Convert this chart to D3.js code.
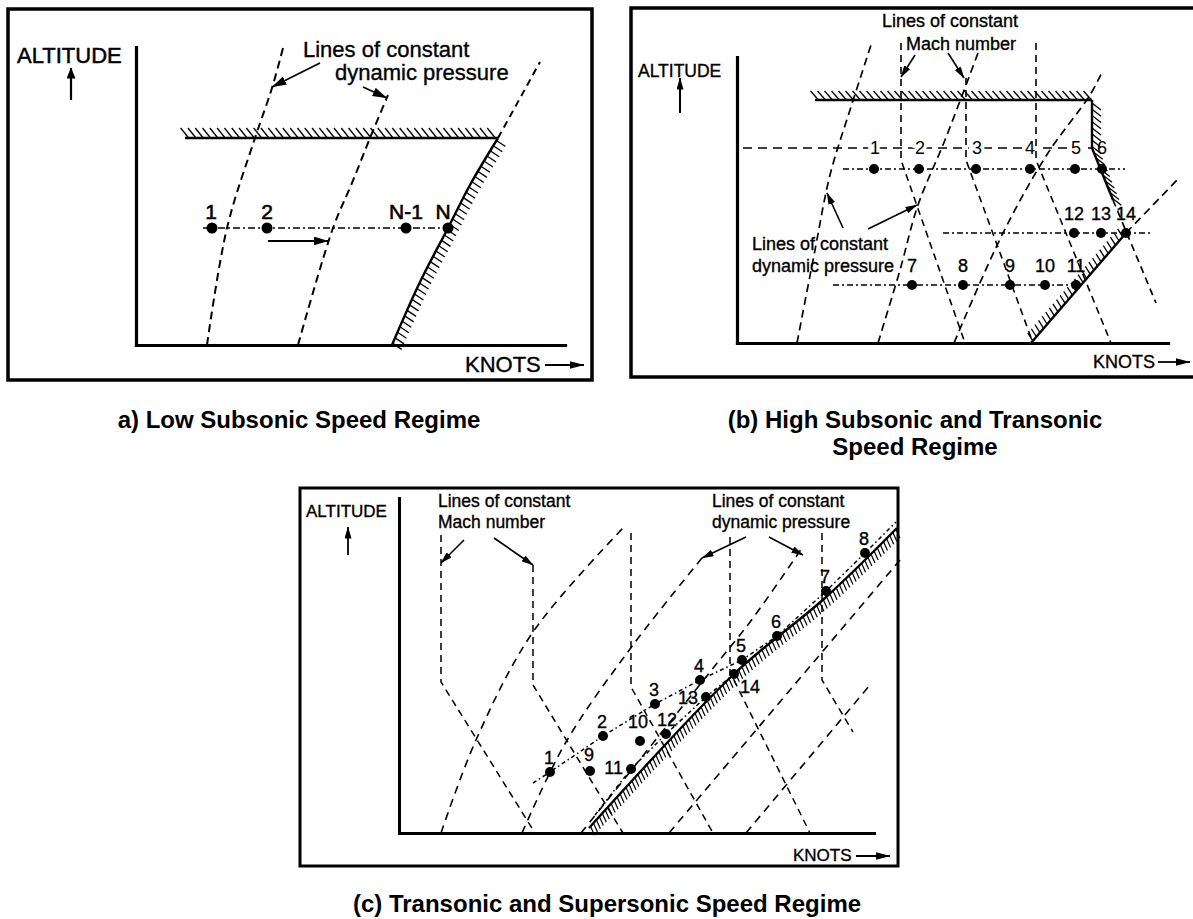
<!DOCTYPE html>
<html><head><meta charset="utf-8">
<script src="https://cdn.jsdelivr.net/npm/d3@7"></script>
<style>
body{margin:0;background:#fff}
text{font-family:"Liberation Sans",Arial,Helvetica,sans-serif;fill:#000}
text.ann{stroke:#000;stroke-width:0.35px}
</style>
</head><body><script>
// ================= DATA (plot units: 1 unit along each axis) =================
// ---- Panel (a) Low subsonic
const aAxisMax = [429, 298];
const aCeiling = [[49, 207], [362, 207]];
const aBoundary = [[362, 207], [334, 160], [312, 117], [284, 63], [256, 0]];
const aBoundaryExt = [[362, 207], [404, 283]];
const aQLine1 = [[71, 0], [91, 117], [119, 207], [136, 257], [147, 297]];
const aQLine2 = [[162, 0], [197, 117], [216, 162], [234, 207], [252, 250]];
const aPathY = 117;
const aPathX = [67, 312];
const aPointsX = [76, 131, 270, 312];
const aPointLabels = ["1", "2", "N-1", "N"];
const aLabelX = [75, 131, 270, 307];
const aMoveArrow = [[132, 104], [192, 104]];
const aNoteArrows = [[[184, 282], [136, 258]], [[227, 258], [251, 247]]];
const aNoteText = ["Lines of constant", "dynamic pressure"];
const aNoteAnchor = [[167, 288], [199, 265]];

// ---- Panel (b) High subsonic / transonic
const bAxisMax = [431, 286];
const bCeiling = [[78, 243], [355, 243]];
const bWall = [[355, 243], [355, 195], [376, 143]];
const bWallExt = [[376, 143], [419, 40]];
const bQLines = [
  [[60, 0], [78, 93], [93, 168], [113, 233], [134, 298]],
  [[141, 0], [163, 73], [181, 138], [208, 203], [241, 290]],
  [[217, 0], [266, 110], [311, 190], [353, 248], [366, 273]]
];
const bQLower = [[294, 0], [389, 110]];
const bQLowerExt = [[389, 110], [443, 166]];
const bMachLines = [
  [[164, 300], [164, 183], [228, 0]],
  [[229, 265], [229, 183], [296, 0]],
  [[299, 300], [299, 183], [374, 0]]
];
const bLabelLine = [[6, 195], [355, 195]];
const bRow1Labels = ["1", "2", "3", "4", "5", "6"];
const bRow1LabelX = [138, 183, 240, 293, 339, 365];
const bRow1Y = 174, bRow1Line = [106, 388];
const bRow1X = [137, 182, 239, 293, 338, 365];
const bRow2Y = 110, bRow2Line = [206, 413];
const bRow2X = [337, 364, 389];
const bRow2Labels = ["12", "13", "14"];
const bRow3Y = 58, bRow3Line = [96, 343];
const bRow3X = [175, 226, 273, 308, 339];
const bRow3Labels = ["7", "8", "9", "10", "11"];
const bMachText = ["Lines of constant", "Mach number"];
const bMachAnchor = [[145, 316], [169, 293]];
const bMachArrows = [[[178, 288], [164, 266]], [[211, 290], [227, 265]]];
const bQText = ["Lines of constant", "dynamic pressure"];
const bQAnchor = [[15, 93], [15, 71]];
const bQArrows = [[[106, 115], [90, 150]], [[131, 114], [180, 138]]];

// ---- Panel (c) Transonic / supersonic
const cAxisMax = [475, 335];
const cMachLines = [
  [[42, 298], [42, 151], [136, 0]],
  [[134, 268], [134, 148], [224, 0]],
  [[232, 300], [232, 146], [314, 0]],
  [[331, 296], [331, 161], [411, 0]],
  [[423, 300], [423, 153], [454, 101]]
];
const cQLines = [
  [[42, 0], [77, 93], [134, 201], [224, 305]],
  [[123, 0], [167, 91], [234, 188], [303, 275]],
  [[182, 0], [311, 161], [354, 215], [403, 285]],
  [[270, 0], [501, 273]],
  [[347, 0], [471, 148]]
];
const cHatch = [[190, 5], [335, 159], [426, 235], [498, 305]];
const cUpperPts = [[151, 61], [204, 97], [256, 129], [301, 153], [343, 173], [378, 197], [427, 242], [466, 280]];
const cUpperLabels = ["1", "2", "3", "4", "5", "6", "7", "8"];
const cUpperStart = [134, 50], cUpperEnd = [497, 311];
const cLowerPts = [[191, 62], [241, 92], [232, 64], [267, 99], [307, 136], [335, 159]];
const cLowerLabels = ["9", "10", "11", "12", "13", "14"];
const cLowerStart = [196, 18];
const cMachText = ["Lines of constant", "Mach number"];
const cMachAnchor = [[39, 326], [39, 305]];
const cMachArrows = [[[65, 293], [42, 270]], [[95, 295], [134, 268]]];
const cQText = ["Lines of constant", "dynamic pressure"];
const cQAnchor = [[313, 326], [313, 305]];
const cQArrows = [[[347, 296], [303, 275]], [[370, 296], [404, 278]]];

const titles = ["a) Low Subsonic Speed Regime", "(b) High Subsonic and Transonic", "Speed Regime", "(c) Transonic and Supersonic Speed Regime"];

// ================= LAYOUT / STYLE =================
const svg = d3.select("body").append("svg").attr("width", 1193).attr("height", 919);
svg.append("rect").attr("width", 1193).attr("height", 919).attr("fill", "#fff");
const defs = svg.append("defs");
function marker(id, len, wid) {
  defs.append("marker").attr("id", id).attr("viewBox", `0 0 ${len} ${wid}`)
    .attr("refX", len - 0.5).attr("refY", wid / 2).attr("markerWidth", len).attr("markerHeight", wid)
    .attr("markerUnits", "userSpaceOnUse").attr("orient", "auto")
    .append("path").attr("d", `M0,0L${len},${wid / 2}L0,${wid}Z`).attr("fill", "#000");
}
marker("ahA", 15, 9); marker("ahB", 12, 7); marker("ahK", 15, 8); marker("ahUp", 11, 9);

function panel(ox, oy, max) {
  return {
    x: d3.scaleLinear().domain([0, max[0]]).range([ox, ox + max[0]]),
    y: d3.scaleLinear().domain([0, max[1]]).range([oy, oy - max[1]])
  };
}
function drawLine(g, s, pts, o = {}) {
  const gen = d3.line().x(d => s.x(d[0])).y(d => s.y(d[1])).curve(o.curve || d3.curveLinear);
  return g.append("path").attr("d", gen(pts)).attr("fill", "none").attr("stroke", "#000")
    .attr("stroke-width", o.width || 1.8).attr("stroke-dasharray", o.dash || null)
    .attr("marker-end", o.marker ? `url(#${o.marker})` : null);
}
function hatchLine(g, s, pts, o) {
  const p = drawLine(g, s, pts, { curve: o.curve, width: o.lw || 2.4 });
  const node = p.node(), L = node.getTotalLength();
  for (let t = o.step * 0.5; t <= L; t += o.step) {
    const q = node.getPointAtLength(t);
    g.append("line").attr("x1", q.x).attr("y1", q.y).attr("x2", q.x + o.vec[0]).attr("y2", q.y + o.vec[1])
      .attr("stroke", "#000").attr("stroke-width", o.hw || 1.3);
  }
}
function axes(g, s, sw) {
  g.append("g").attr("transform", `translate(0,${s.y(0)})`)
    .call(d3.axisBottom(s.x).tickValues([]).tickSizeOuter(0))
    .select(".domain").attr("stroke-width", sw).attr("stroke-linecap", "square");
  g.append("g").attr("transform", `translate(${s.x(0)},0)`)
    .call(d3.axisLeft(s.y).tickValues([]).tickSizeOuter(0))
    .select(".domain").attr("stroke-width", sw).attr("stroke-linecap", "square");
}
function label(g, x, y, t, size, anchor = "start", weight = "normal") {
  return g.append("text").attr("class", weight === "bold" ? null : "ann").attr("x", x).attr("y", y).attr("font-size", size)
    .attr("text-anchor", anchor).attr("font-weight", weight).text(t);
}
function dots(g, s, pts, r) {
  g.selectAll(null).data(pts).join("circle").attr("cx", d => s.x(d[0])).attr("cy", d => s.y(d[1])).attr("r", r).attr("fill", "#000");
}

// ---------- frames ----------
svg.append("rect").attr("x", 8).attr("y", 9).attr("width", 584).attr("height", 371).attr("fill", "none").attr("stroke", "#000").attr("stroke-width", 3.5);
svg.append("rect").attr("x", 631).attr("y", 8).attr("width", 580).attr("height", 369).attr("fill", "none").attr("stroke", "#000").attr("stroke-width", 3.5);
svg.append("rect").attr("x", 300).attr("y", 488).attr("width", 598).attr("height", 378).attr("fill", "none").attr("stroke", "#000").attr("stroke-width", 3);

// ================= PANEL A =================
const A = panel(136, 345, aAxisMax);
const gA = svg.append("g");
axes(gA, A, 3.2);
hatchLine(gA, A, aCeiling, { step: 7.3, vec: [-8, -10] });
hatchLine(gA, A, aBoundary, { step: 6, vec: [9, 6], curve: d3.curveCatmullRom });
drawLine(gA, A, aBoundaryExt, { dash: "7,5", width: 2 });
drawLine(gA, A, aQLine1, { dash: "8,5", width: 2, curve: d3.curveCatmullRom });
drawLine(gA, A, aQLine2, { dash: "8,5", width: 2, curve: d3.curveCatmullRom });
drawLine(gA, A, [[aPathX[0], aPathY], [aPathX[1], aPathY]], { dash: "7,3,2,3", width: 1.6 });
dots(gA, A, aPointsX.map(x => [x, aPathY]), 5.5);
aPointLabels.forEach((t, i) => label(gA, A.x(aLabelX[i]), A.y(aPathY) - 9, t, 21, "middle").style("stroke-width", "0.6px"));
drawLine(gA, A, aMoveArrow, { width: 2, marker: "ahA" });
aNoteArrows.forEach(p => drawLine(gA, A, p, { width: 1.8, marker: "ahA" }));
aNoteText.forEach((t, i) => label(gA, A.x(aNoteAnchor[i][0]), A.y(aNoteAnchor[i][1]), t, 22));
label(gA, 17, 63, "ALTITUDE", 22).style("stroke-width", "0.5px");
gA.append("line").attr("x1", 71).attr("y1", 100).attr("x2", 71).attr("y2", 68).attr("stroke", "#000").attr("stroke-width", 2.2).attr("marker-end", "url(#ahUp)");
label(gA, 465, 372, "KNOTS", 22);
gA.append("line").attr("x1", 545).attr("y1", 365).attr("x2", 584).attr("y2", 365).attr("stroke", "#000").attr("stroke-width", 2).attr("marker-end", "url(#ahK)");

// ================= PANEL B =================
const B = panel(737, 343, bAxisMax);
const gB = svg.append("g");
axes(gB, B, 3.2);
drawLine(gB, B, bLabelLine, { dash: "9,6", width: 1.7 });
bRow1Labels.forEach((t, i) => label(gB, B.x(bRow1LabelX[i]), B.y(bLabelLine[0][1]) + 6, t, 18, "middle")
  .style("stroke", "#fff").style("stroke-width", "7px").attr("paint-order", "stroke"));
hatchLine(gB, B, bCeiling, { step: 7, vec: [-8, -9] });
hatchLine(gB, B, bWall, { step: 6.2, vec: [9, 7] });
drawLine(gB, B, bWallExt, { dash: "7,5", width: 1.7 });
bQLines.forEach(p => drawLine(gB, B, p, { dash: "8,5", width: 1.7, curve: d3.curveCatmullRom }));
hatchLine(gB, B, bQLower, { step: 5.5, vec: [-5, -8] });
drawLine(gB, B, bQLowerExt, { dash: "8,5", width: 1.7 });
bMachLines.forEach(p => drawLine(gB, B, p, { dash: "7,5", width: 1.6 }));
drawLine(gB, B, [[bRow1Line[0], bRow1Y], [bRow1Line[1], bRow1Y]], { dash: "6,3,2,3", width: 1.4 });
drawLine(gB, B, [[bRow2Line[0], bRow2Y], [bRow2Line[1], bRow2Y]], { dash: "6,3,2,3", width: 1.4 });
drawLine(gB, B, [[bRow3Line[0], bRow3Y], [bRow3Line[1], bRow3Y]], { dash: "6,3,2,3", width: 1.4 });
dots(gB, B, bRow1X.map(x => [x, bRow1Y]), 5);
dots(gB, B, bRow2X.map(x => [x, bRow2Y]), 5);
dots(gB, B, bRow3X.map(x => [x, bRow3Y]), 5);
bRow2Labels.forEach((t, i) => label(gB, B.x(bRow2X[i]), B.y(bRow2Y) - 13, t, 18, "middle"));
bRow3Labels.forEach((t, i) => label(gB, B.x(bRow3X[i]), B.y(bRow3Y) - 13, t, 18, "middle"));
bMachText.forEach((t, i) => label(gB, B.x(bMachAnchor[i][0]), B.y(bMachAnchor[i][1]), t, 18));
bMachArrows.forEach(p => drawLine(gB, B, p, { width: 1.6, marker: "ahB" }));
bQText.forEach((t, i) => label(gB, B.x(bQAnchor[i][0]), B.y(bQAnchor[i][1]), t, 18));
bQArrows.forEach(p => drawLine(gB, B, p, { width: 1.6, marker: "ahB" }));
label(gB, 638, 77, "ALTITUDE", 17.5);
gB.append("line").attr("x1", 680).attr("y1", 113).attr("x2", 680).attr("y2", 78).attr("stroke", "#000").attr("stroke-width", 2).attr("marker-end", "url(#ahB)");
label(gB, 1093, 368, "KNOTS", 18);
gB.append("line").attr("x1", 1158).attr("y1", 362).attr("x2", 1190).attr("y2", 362).attr("stroke", "#000").attr("stroke-width", 1.8).attr("marker-end", "url(#ahK)");

// ================= PANEL C =================
const C = panel(399, 833, cAxisMax);
const gC = svg.append("g");
axes(gC, C, 3);
cMachLines.forEach(p => drawLine(gC, C, p, { dash: "7,5", width: 1.5 }));
cQLines.forEach(p => drawLine(gC, C, p, { dash: "8,6", width: 1.6, curve: d3.curveCatmullRom }));
hatchLine(gC, C, cHatch, { step: 4.4, vec: [4, 9], curve: d3.curveCatmullRom, lw: 2.4, hw: 1.2 });
drawLine(gC, C, [cUpperStart, ...cUpperPts, cUpperEnd], { dash: "4,3,1.5,3", width: 1.5 });
drawLine(gC, C, [cLowerStart, cLowerPts[2], cLowerPts[3], cLowerPts[4], cLowerPts[5]], { dash: "4,3,1.5,3", width: 1.5 });
dots(gC, C, cUpperPts, 5);
dots(gC, C, cLowerPts, 5);
cUpperPts.forEach((p, i) => label(gC, C.x(p[0]) - 1, C.y(p[1]) - 8, cUpperLabels[i], 18, "middle"));
const cLowerLabelOffsets = [[-1, -10, "middle"], [-2, -13, "middle"], [-8, 5, "end"], [1, -8, "middle"], [-8, 7, "end"], [6, 19, "start"]];
cLowerPts.forEach((p, i) => {
  const o = cLowerLabelOffsets[i];
  label(gC, C.x(p[0]) + o[0], C.y(p[1]) + o[1], cLowerLabels[i], 18, o[2]);
});
cMachText.forEach((t, i) => label(gC, C.x(cMachAnchor[i][0]), C.y(cMachAnchor[i][1]), t, 17.5));
cMachArrows.forEach(p => drawLine(gC, C, p, { width: 1.6, marker: "ahB" }));
cQText.forEach((t, i) => label(gC, C.x(cQAnchor[i][0]), C.y(cQAnchor[i][1]), t, 17.5));
cQArrows.forEach(p => drawLine(gC, C, p, { width: 1.6, marker: "ahB" }));
label(gC, 306, 517, "ALTITUDE", 17);
gC.append("line").attr("x1", 348).attr("y1", 555).attr("x2", 348).attr("y2", 527).attr("stroke", "#000").attr("stroke-width", 1.8).attr("marker-end", "url(#ahB)");
label(gC, 793, 861, "KNOTS", 17);
gC.append("line").attr("x1", 856).attr("y1", 856).attr("x2", 890).attr("y2", 856).attr("stroke", "#000").attr("stroke-width", 1.8).attr("marker-end", "url(#ahK)");

// ================= TITLES =================
label(svg, 299, 428, titles[0], 24, "middle", "bold");
label(svg, 915, 428, titles[1], 24, "middle", "bold");
label(svg, 915, 455, titles[2], 24, "middle", "bold");
label(svg, 607, 912, titles[3], 24, "middle", "bold");
</script></body></html>
